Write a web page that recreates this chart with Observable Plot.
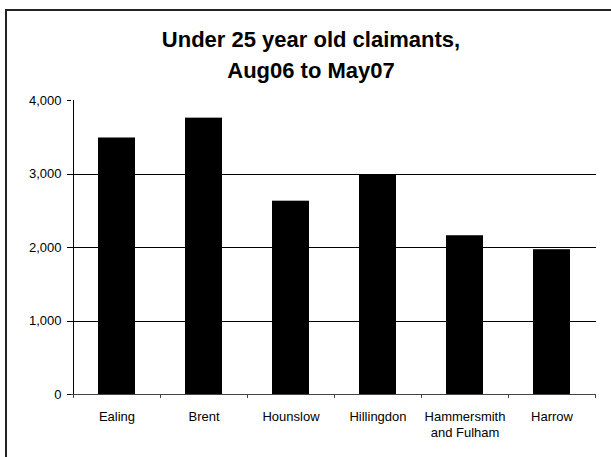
<!DOCTYPE html>
<html>
<head>
<meta charset="utf-8">
<script src="https://cdn.jsdelivr.net/npm/d3@7"></script>
<script src="https://cdn.jsdelivr.net/npm/@observablehq/plot@0.6"></script>
<style>
  html, body { margin: 0; padding: 0; background: #fff; overflow: hidden; }
  #wrap { position: relative; width: 611px; height: 457px; overflow: hidden; background: #fff; }
  #frame { position: absolute; left: 5px; top: 9px; width: 700px; height: 600px; border: 2px solid #222; box-sizing: border-box; }
  #title { position: absolute; left: 0; top: 24px; width: 622px; text-align: center;
           font-family: Arial, "Liberation Sans", sans-serif; font-weight: bold; font-size: 22px; line-height: 31px; color: #000; }
  #chart { position: absolute; left: 0; top: 0; }
</style>
</head>
<body>
<div id="wrap">
  <div id="frame"></div>
  <div id="chart"></div>
  <div id="title">Under 25 year old claimants,<br>Aug06 to May07</div>
</div>
<script>
const categories = ["Ealing", "Brent", "Hounslow", "Hillingdon", "Hammersmith and Fulham", "Harrow"];
const tickLabels = ["Ealing", "Brent", "Hounslow", "Hillingdon", "Hammersmith\nand Fulham", "Harrow"];
const values = [3490, 3760, 2630, 2980, 2160, 1970];
const yTicks = [0, 1000, 2000, 3000, 4000];
const gridValues = [1000, 2000, 3000];

const data = categories.map((c, i) => ({category: c, value: values[i]}));

const plot = Plot.plot({
  width: 611,
  height: 457,
  marginLeft: 71,
  marginRight: 15,
  marginTop: 100,
  marginBottom: 63,
  style: {fontFamily: "Arial, 'Liberation Sans', sans-serif", fontSize: "13px", color: "#000", background: "transparent", overflow: "visible"},
  x: {domain: categories, paddingInner: 0.577, paddingOuter: 0.2885, label: null},
  y: {domain: [0, 4000], label: null},
  marks: [
    Plot.ruleY(gridValues, {stroke: "#000", strokeWidth: 1}),
    Plot.barY(data, {x: "category", y: "value", fill: "#000"}),
    Plot.ruleY([0], {stroke: "#444", strokeWidth: 1}),
    Plot.axisY({ticks: yTicks, tickSize: 4, tickPadding: 6, tickFormat: d3.format(","), fontSize: 13, label: null}),
    Plot.axisX({tickSize: 0, tickPadding: 14, fontSize: 13, lineHeight: 1.3, label: null,
                tickFormat: d => tickLabels[categories.indexOf(d)]})
  ]
});

document.getElementById("chart").appendChild(plot);

// axis line and category-boundary ticks from the library's scales
const xs = plot.scale("x");
const ys = plot.scale("y");
const svg = d3.select(plot);
const step = xs.step;
const y0 = ys.apply(0);
const yTop = ys.apply(yTicks[yTicks.length - 1]);
const xLeft = xs.apply(categories[0]) + xs.bandwidth / 2 - step / 2;
const boundaries = categories.map(c => xs.apply(c) + xs.bandwidth / 2 - step / 2);
boundaries.push(xs.apply(categories[categories.length - 1]) + xs.bandwidth / 2 + step / 2);

const g = svg.append("g").attr("stroke", "#000").attr("stroke-width", 1);
g.append("line")
  .attr("x1", Math.round(xLeft) + 0.5).attr("x2", Math.round(xLeft) + 0.5)
  .attr("y1", yTop).attr("y2", y0 + 3);
g.selectAll("line.bt").data(boundaries).join("line")
  .attr("class", "bt")
  .attr("stroke", "#444")
  .attr("x1", d => Math.round(d) + 0.5).attr("x2", d => Math.round(d) + 0.5)
  .attr("y1", y0).attr("y2", y0 + 4);

svg.selectAll("line, path").attr("shape-rendering", "crispEdges");
</script>
</body>
</html>
